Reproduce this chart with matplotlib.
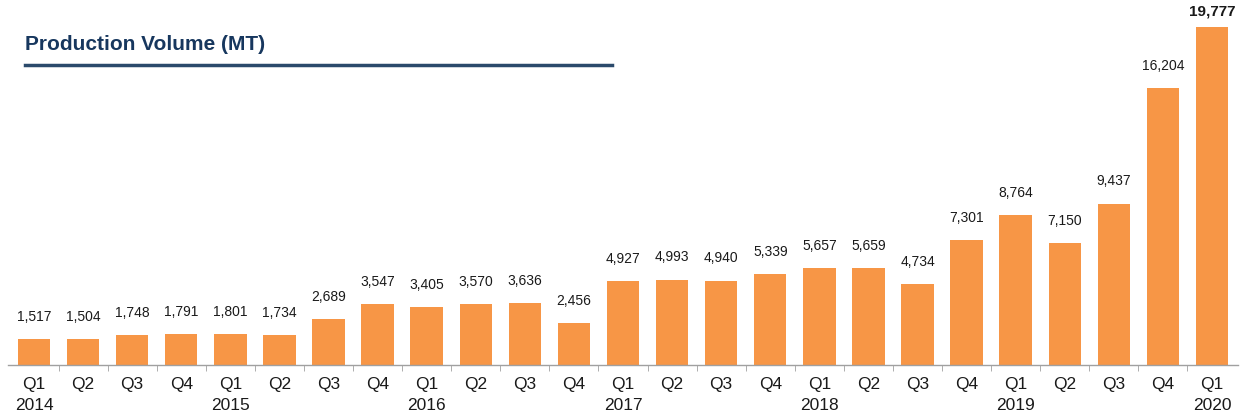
import matplotlib.pyplot as plt
from matplotlib.lines import Line2D

# === Data
quarters = ["Q1", "Q2", "Q3", "Q4"] * 6 + ["Q1"]
years = ["2014", "", "", "", "2015", "", "", "", "2016", "", "", "",
         "2017", "", "", "", "2018", "", "", "", "2019", "", "", "", "2020"]
volume = [1517, 1504, 1748, 1791, 1801, 1734, 2689, 3547, 3405, 3570, 3636, 2456,
          4927, 4993, 4940, 5339, 5657, 5659, 4734, 7301, 8764, 7150, 9437, 16204, 19777]

plt.rcParams["font.family"] = ["Liberation Sans", "DejaVu Sans"]

fig = plt.figure(figsize=(12.45, 4.18), dpi=100)
ax = fig.add_axes([0.0064, 0.1268, 0.988, 0.849])

x = list(range(len(volume)))
bars = ax.bar(x, volume, width=0.66, color="#f79646", zorder=2)

# value labels, last one bold
for i, (xi, v) in enumerate(zip(x, volume)):
    bold = i == len(volume) - 1
    ax.annotate(f"{v:,}", (xi, v), xytext=(0, 11 if not bold else 6),
                textcoords="offset points", ha="center", va="bottom",
                fontsize=11 if bold else 10, color="#1a1a1a",
                fontweight="bold" if bold else "normal")

ax.set_xlim(-0.53, len(volume) - 0.47)
ax.set_ylim(0, 20772)

labels = [q + "\n" + y if y else q + "\n " for q, y in zip(quarters, years)]
ax.set_xticks(x)
ax.set_xticklabels(labels, fontsize=12.5, color="#1a1a1a", linespacing=1.45)
ax.tick_params(axis="x", which="major", length=0, pad=9)
ax.set_xticks([i + 0.5 for i in x[:-1]], minor=True)
ax.tick_params(axis="x", which="minor", length=4, color="#a0a0a0", direction="out")
ax.set_yticks([])

for s in ["top", "right", "left"]:
    ax.spines[s].set_visible(False)
ax.spines["bottom"].set_color("#a0a0a0")
ax.spines["bottom"].set_linewidth(1)

# title with underline
fig.text(25 / 1245, 1 - 45 / 418, "Production Volume (MT)", fontsize=15,
         fontweight="bold", color="#17375e", va="center", ha="left")
fig.add_artist(Line2D([25 / 1245, 612 / 1245], [1 - 65 / 418, 1 - 65 / 418],
                      color="#2b4a6b", linewidth=2.5, transform=fig.transFigure))

fig.savefig("out.png", dpi=100)
print("Figure saved as out.png")
